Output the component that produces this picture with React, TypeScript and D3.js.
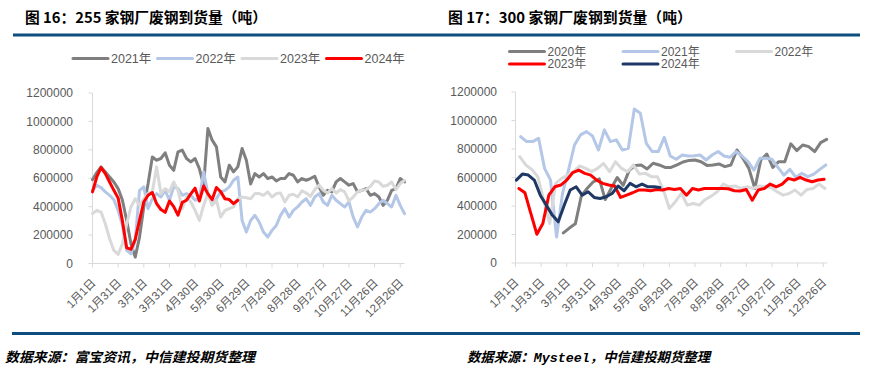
import * as d3 from 'd3'

// x axis: day of year, labels every 30 days
const xTickLabels = [
  '1月1日', '1月31日', '3月1日', '3月31日', '4月30日', '5月30日', '6月29日',
  '7月29日', '8月28日', '9月27日', '10月27日', '11月26日', '12月26日',
]
const yTicks = [0, 200000, 400000, 600000, 800000, 1000000, 1200000]

// 图16: 255家钢厂, sampled every 5 days, thousand tonnes
const leftStep = 5
const left2021 = [
  590, 640, 680, 645, 609, 574, 527, 445, 303, 139, 45, 186, 398, 562, 750, 727,
  739, 779, 692, 656, 786, 798, 739, 715, 739, 668, 551, 950, 868, 821, 609, 574,
  692, 645, 680, 809, 727, 560, 633, 609, 633, 598, 609, 581, 598, 598, 633, 621,
  574, 598, 586, 598, 614, 539, 480, 515, 504, 574, 598, 574, 551, 562, 504, 515,
  527, 480, 492, 468, 409, 445, 515, 527, 598, 574,
]
const left2022 = [
  515, 551, 534, 504, 480, 449, 374, 268, 92, 68, 162, 515, 539, 386, 456, 492,
  468, 515, 445, 539, 527, 480, 492, 480, 445, 456, 645, 492, 421, 456, 504, 515,
  539, 586, 609, 303, 221, 303, 339, 292, 221, 186, 233, 268, 339, 386, 327, 374,
  398, 433, 456, 409, 468, 492, 433, 409, 480, 445, 421, 398, 433, 327, 257, 327,
  374, 362, 386, 421, 445, 421, 398, 480, 409, 351,
]
const left2023 = [
  351, 374, 362, 280, 174, 92, 64, 139, 280, 398, 456, 409, 456, 492, 504, 680,
  492, 527, 504, 574, 515, 386, 468, 433, 374, 303, 409, 492, 409, 445, 327, 374,
  386, 398, 456, 468, 463, 456, 492, 492, 480, 504, 468, 492, 496, 433, 480, 487,
  468, 511, 496, 473, 520, 551, 515, 496, 527, 496, 520, 504, 440, 468, 504, 515,
  520, 543, 581, 574, 543, 551, 574, 520, 562, 586,
]
const left2024 = [
  504, 609, 675, 633, 574, 515, 460, 300, 110, 100, 170, 305, 433, 480, 500, 421,
  380, 360, 440, 400, 340, 430, 445, 490, 530, 440, 545, 490, 450, 535, 505, 455,
  450, 421, 445,
]

// 图17: 300家钢厂, weekly, thousand tonnes; start = first day with data
const rightStep = 7
const right2020Start = 56
const right2020 = [
  211, 245, 275, 470, 525, 570, 590, 445, 525, 600, 545, 650, 685, 688, 660, 700,
  688, 671, 671, 688, 709, 720, 723, 711, 685, 688, 695, 676, 688, 793, 735, 664,
  523, 723, 765, 671, 711, 711, 836, 789, 828, 817, 782, 845, 868,
]
const right2021Start = 6
const right2021 = [
  887, 852, 852, 875, 664, 582, 183, 488, 652, 828, 899, 922, 892, 793, 934, 852,
  864, 793, 805, 1080, 1051, 840, 782, 782, 882, 751, 728, 758, 751, 753, 758, 723,
  758, 782, 751, 742, 782, 751, 711, 652, 735, 735, 728, 671, 617, 657, 601, 629,
  606, 624, 657, 688,
]
const right2022Start = 5
const right2022 = [
  746, 688, 657, 606, 441, 277, 559, 594, 617, 641, 681, 664, 641, 664, 699, 641,
  711, 664, 641, 688, 624, 629, 606, 606, 512, 383, 430, 488, 406, 418, 406, 446,
  469, 500, 554, 535, 540, 523, 535, 523, 540, 535, 530, 500, 476, 488, 512, 476,
  516, 523, 554, 523,
]
const right2023Start = 4
const right2023 = [
  523, 493, 347, 202, 277, 476, 535, 547, 582, 634, 652, 629, 617, 582, 559, 547,
  540, 460, 476, 493, 512, 512, 507, 516, 512, 523, 516, 523, 476, 523, 512, 523,
  523, 523, 523, 521, 507, 505, 516, 441, 512, 523, 554, 535, 554, 594, 582, 601,
  582, 570, 582, 587,
]
const right2024Start = 1
const right2024 = [
  582, 624, 617, 582, 476, 406, 336, 289, 406, 512, 535, 476, 500, 460, 453, 465,
  488, 540, 507, 559, 535, 554, 535, 535, 530,
]

const GRAY = '#7f7f7f'
const LIGHT_BLUE = '#b4c7e7'
const LIGHT_GRAY = '#d9d9d9'
const RED = '#ff0000'
const NAVY = '#203864'
const BRAND = '#0e4e7e'
const LABEL = '#595959'

interface Series {
  name: string
  color: string
  values: number[]
  start: number
  step: number
  lx: number
  ly: number
}

interface Box {
  x0: number
  x1: number
  y0: number
  y1: number
  labelRight: number
  legendSize: number
}

const sans = '"Liberation Sans", Arial, "Noto Sans CJK SC", sans-serif'
const cjk = '"Noto Sans CJK SC", sans-serif'

function Panel({ box, series }: { box: Box; series: Series[] }) {
  const x = d3.scaleLinear().domain([0, 365]).range([box.x0, box.x1])
  const y = d3.scaleLinear().domain([0, 1200000]).range([box.y1, box.y0])
  const path = (s: Series) =>
    d3
      .line<number>()
      .x((_, i) => x(s.start + i * s.step))
      .y(v => y(v * 1000))(s.values) ?? ''

  return (
    <g>
      {/* y axis */}
      <line x1={box.x0} x2={box.x0} y1={box.y0} y2={box.y1} stroke={LIGHT_GRAY} />
      {yTicks.map(t => (
        <g key={t}>
          <line x1={box.x0 - 4} x2={box.x0} y1={y(t)} y2={y(t)} stroke={LIGHT_GRAY} />
          <text
            x={box.labelRight}
            y={y(t)}
            dy="0.35em"
            textAnchor="end"
            fontSize={12}
            fontFamily={sans}
            fill={LABEL}
          >
            {t}
          </text>
        </g>
      ))}
      {/* x axis */}
      <line x1={box.x0} x2={x(365)} y1={box.y1} y2={box.y1} stroke={LIGHT_GRAY} />
      {xTickLabels.map((lab, i) => {
        const tx = x(i * 30)
        return (
          <g key={lab}>
            <line x1={tx} x2={tx} y1={box.y1} y2={box.y1 + 4} stroke={LIGHT_GRAY} />
            <text
              transform={`translate(${tx + 4},${box.y1 + 20}) rotate(-45)`}
              textAnchor="end"
              fontSize={11.5}
              fontFamily={sans}
              fill={LABEL}
            >
              {lab}
            </text>
          </g>
        )
      })}
      {series.map(s => (
        <path
          key={s.name}
          d={path(s)}
          fill="none"
          stroke={s.color}
          strokeWidth={3}
          strokeLinejoin="round"
          strokeLinecap="round"
        />
      ))}
      {/* legend */}
      {series.map(s => (
        <g key={'lg' + s.name}>
          <line x1={s.lx} x2={s.lx + 35} y1={s.ly} y2={s.ly} stroke={s.color} strokeWidth={3} strokeLinecap="round" />
          <text x={s.lx + 38} y={s.ly} dy="0.36em" fontSize={box.legendSize} fontFamily={sans} fill={LABEL}>
            {s.name}
          </text>
        </g>
      ))}
    </g>
  )
}

export default function App() {
  const leftSeries: Series[] = [
    { name: '2021年', color: GRAY, values: left2021, start: 0, step: leftStep, lx: 73, ly: 58.5 },
    { name: '2022年', color: LIGHT_BLUE, values: left2022, start: 0, step: leftStep, lx: 157.5, ly: 58.5 },
    { name: '2023年', color: LIGHT_GRAY, values: left2023, start: 0, step: leftStep, lx: 242, ly: 58.5 },
    { name: '2024年', color: RED, values: left2024, start: 0, step: leftStep, lx: 326.5, ly: 58.5 },
  ]
  const rightSeries: Series[] = [
    { name: '2020年', color: GRAY, values: right2020, start: right2020Start, step: rightStep, lx: 509.5, ly: 51.5 },
    { name: '2021年', color: LIGHT_BLUE, values: right2021, start: right2021Start, step: rightStep, lx: 623, ly: 51.5 },
    { name: '2022年', color: LIGHT_GRAY, values: right2022, start: right2022Start, step: rightStep, lx: 736.5, ly: 51.5 },
    { name: '2023年', color: RED, values: right2023, start: right2023Start, step: rightStep, lx: 509.5, ly: 64 },
    { name: '2024年', color: NAVY, values: right2024, start: right2024Start, step: rightStep, lx: 623, ly: 64 },
  ]

  const titleProps = { fontSize: 14.5, fontWeight: 700, fontFamily: cjk, fill: '#000' }
  const sourceProps = { fontSize: 13.5, fontWeight: 700, fontStyle: 'italic', fontFamily: cjk, fill: '#000' }

  return (
    <div style={{ position: 'absolute', left: 0, top: 0 }}>
      <svg width={871} height={370} style={{ display: 'block', background: '#fff' }}>
        <text x={25} y={23} textLength={242} lengthAdjust="spacingAndGlyphs" {...titleProps}>
          图 16：255 家钢厂废钢到货量（吨）
        </text>
        <text x={448} y={23} textLength={244} lengthAdjust="spacingAndGlyphs" {...titleProps}>
          图 17：300 家钢厂废钢到货量（吨）
        </text>
        <line x1={13} x2={860} y1={35} y2={35} stroke={BRAND} strokeWidth={3} />

        <Panel
          box={{ x0: 92.5, x1: 404.5, y0: 93, y1: 263.5, labelRight: 73, legendSize: 12.5 }}
          series={leftSeries}
        />
        <Panel
          box={{ x0: 515.5, x1: 827.5, y0: 92, y1: 263, labelRight: 497, legendSize: 12 }}
          series={rightSeries}
        />

        <line x1={12} x2={860} y1={333.5} y2={333.5} stroke={BRAND} strokeWidth={3} />
        <text x={5} y={362} textLength={250} lengthAdjust="spacingAndGlyphs" {...sourceProps}>
          数据来源：富宝资讯，中信建投期货整理
        </text>
        <text x={467} y={362} textLength={243} lengthAdjust="spacingAndGlyphs" {...sourceProps}>
          数据来源：<tspan fontFamily='"Liberation Mono", monospace'>Mysteel</tspan>，中信建投期货整理
        </text>
      </svg>
    </div>
  )
}
